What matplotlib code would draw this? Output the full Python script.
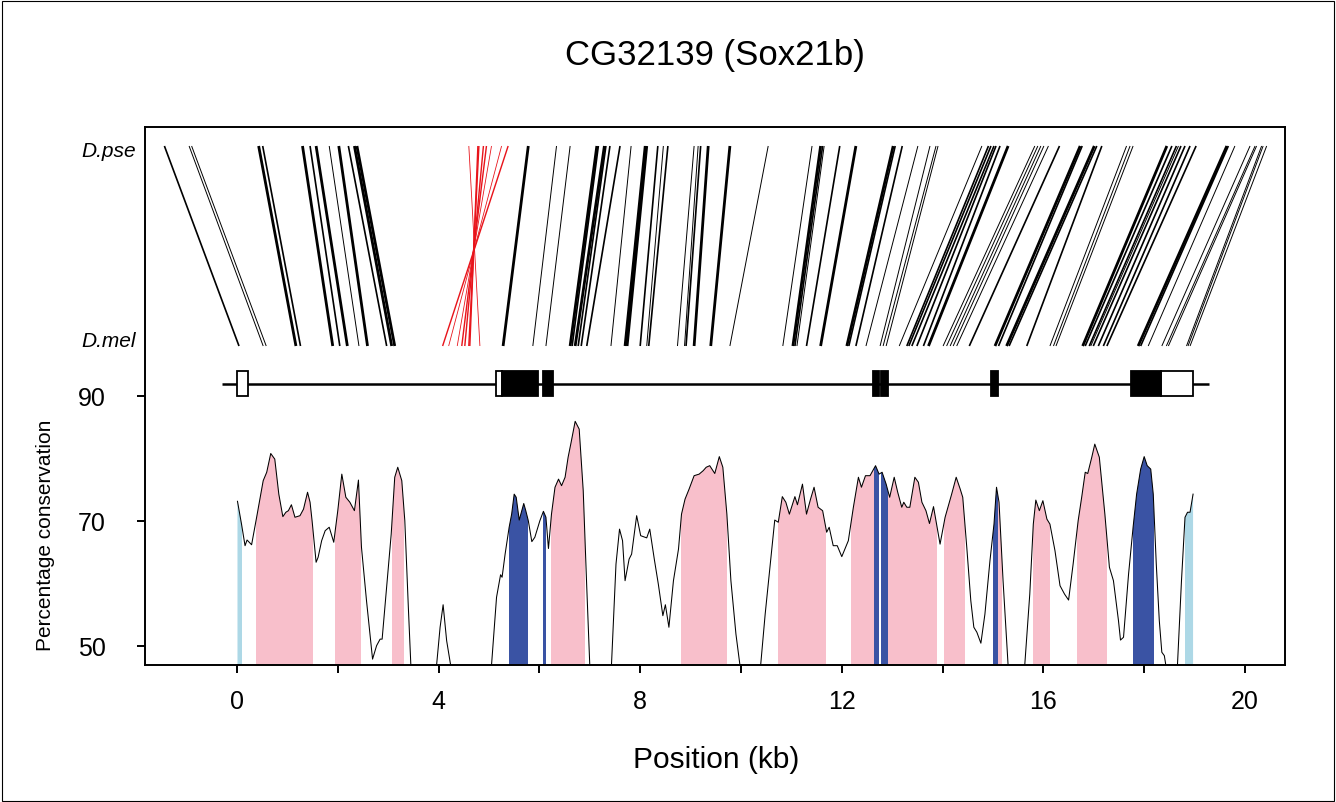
import numpy as np
import matplotlib
matplotlib.use("Agg")
import matplotlib.pyplot as plt
from matplotlib.patches import Rectangle
from matplotlib.collections import LineCollection

plt.rcParams['font.family'] = ['Liberation Sans', 'DejaVu Sans']

TITLE = "CG32139 (Sox21b)"
XLABEL = "Position (kb)"
YLABEL = "Percentage conservation"
SP_TOP = "D.pse"
SP_BOT = "D.mel"

# ---- synteny links: D.pse position (top) -> D.mel position (bottom), kb; class 1 thin,2 medium,3 thick
link_top = [-1.44, -0.95, -0.90, 0.43, 0.51, 1.30, 1.45, 1.57, 1.83, 2.02, 2.21, 2.33, 2.38,
            5.78, 6.34, 6.61, 7.14, 7.17, 7.29, 7.32, 7.40, 7.60, 7.82, 8.10, 8.13, 8.35, 8.46, 8.55,
            9.07, 9.15, 9.20, 9.35, 9.78, 10.54, 11.41, 11.58, 11.62, 11.65, 11.96, 12.28,
            13.02, 13.06, 13.20, 13.51, 13.75, 13.87, 13.91,
            14.78, 14.91, 14.96, 15.02, 15.06, 15.14, 15.30,
            15.83, 15.89, 15.95, 16.01, 16.10, 16.32,
            16.73, 16.77, 17.01, 17.06, 17.16, 17.65, 17.72, 17.78,
            18.45, 18.55, 18.64, 18.68, 18.73, 18.81, 18.91, 19.03,
            19.64, 19.67, 19.80, 20.10, 20.20, 20.23, 20.33, 20.36, 20.43]
link_bot = [0.04, 0.52, 0.58, 1.17, 1.26, 1.90, 2.04, 2.19, 2.42, 2.59, 2.97, 3.07, 3.13,
            5.28, 5.87, 6.13, 6.61, 6.65, 6.71, 6.77, 6.83, 6.94, 7.42, 7.70, 7.74, 8.00, 8.13, 8.17,
            8.74, 8.88, 8.91, 9.07, 9.40, 9.78, 10.83, 11.03, 11.07, 11.11, 11.30, 11.58,
            12.10, 12.14, 12.28, 12.48, 12.76, 12.82, 12.88,
            13.14, 13.29, 13.33, 13.39, 13.49, 13.62, 13.72,
            14.01, 14.08, 14.15, 14.21, 14.28, 14.53,
            15.04, 15.11, 15.27, 15.32, 15.67, 16.13, 16.20, 16.25,
            16.78, 16.83, 16.91, 16.94, 16.99, 17.09, 17.19, 17.26,
            17.88, 17.93, 18.08, 18.35, 18.44, 18.48, 18.84, 18.87, 18.91]
link_cls = [2, 1, 1, 3, 2, 3, 2, 3, 1, 3, 2, 3, 3,
            3, 1, 1, 3, 2, 3, 2, 2, 2, 1, 3, 3, 2, 1, 2,
            1, 1, 2, 3, 3, 1, 1, 3, 2, 1, 2, 3,
            3, 2, 2, 1, 1, 1, 1,
            1, 2, 2, 2, 2, 2, 3,
            1, 1, 1, 1, 1, 2,
            3, 2, 3, 2, 2, 1, 1, 1,
            3, 2, 2, 1, 2, 2, 2, 2,
            3, 2, 1, 1, 1, 1, 1, 1, 1]
# inverted (red) links
inv_top = [4.60, 4.78, 4.80, 4.89, 4.95, 5.05, 5.25, 5.38]
inv_bot = [4.82, 4.62, 4.60, 4.52, 4.46, 4.37, 4.20, 4.08]
inv_cls = [1, 2, 2, 2, 2, 1, 1, 2]

# ---- gene model (kb)
gene_span = (-0.30, 19.29)
utr_exons = [(0.01, 0.21), (5.14, 5.26), (18.33, 18.97)]
cds_exons = [(5.26, 5.97), (6.08, 6.28), (12.62, 12.74), (12.77, 12.92), (14.97, 15.10), (17.74, 18.33)]

# ---- conservation profile (kb, %); NaN = below plotted range
cons_x = [0.01, 0.09, 0.16, 0.20, 0.29, 0.39, 0.52, 0.59, 0.67, 0.75, 0.83, 0.91, 0.97, 1.02, 1.08,
          1.15, 1.25, 1.32, 1.40, 1.45, 1.49, 1.57, 1.61, 1.68, 1.75, 1.83, 1.92, 2.00, 2.08, 2.16,
          2.24, 2.33, 2.41, 2.47, 2.57, 2.69, 2.77, 2.84, 2.88, 2.97, 3.06, 3.13, 3.19, 3.27, 3.33,
          3.40, 3.45, 3.70,
          3.96, 4.03, 4.09, 4.16, 4.24, 4.60,
          5.05, 5.15, 5.23, 5.26, 5.32, 5.40, 5.45, 5.50, 5.54, 5.60, 5.65, 5.69, 5.73, 5.78, 5.85,
          5.91, 6.01, 6.08, 6.13, 6.18, 6.24, 6.31, 6.38, 6.44, 6.51, 6.57, 6.63, 6.71, 6.79, 6.87,
          6.94, 7.00, 7.20,
          7.43, 7.52, 7.59, 7.65, 7.70, 7.78, 7.83, 7.93, 8.01, 8.13, 8.19, 8.28, 8.36, 8.45, 8.50,
          8.57, 8.66, 8.76, 8.82, 8.89, 8.97, 9.07, 9.17, 9.25, 9.31, 9.38, 9.48, 9.57, 9.64, 9.72,
          9.80, 9.90, 9.98, 10.20,
          10.39, 10.48, 10.58, 10.67, 10.74, 10.82, 10.89, 10.96, 11.07, 11.12, 11.22, 11.30, 11.38,
          11.45, 11.53, 11.62, 11.70, 11.75, 11.83, 11.91, 12.00, 12.13, 12.23, 12.33, 12.39, 12.47,
          12.56, 12.67, 12.74, 12.80, 12.88, 12.95, 13.04, 13.11, 13.19, 13.23, 13.29, 13.35, 13.45,
          13.52, 13.59, 13.67, 13.74, 13.82, 13.88, 13.95, 14.05, 14.18, 14.27, 14.35, 14.40, 14.48,
          14.56, 14.62, 14.68, 14.76, 14.84, 14.94, 15.02, 15.07, 15.12, 15.20, 15.30, 15.45,
          15.63, 15.73, 15.80, 15.85, 15.92, 15.99, 16.07, 16.13, 16.23, 16.33, 16.42, 16.50, 16.59,
          16.69, 16.76, 16.83, 16.88, 16.96, 17.02, 17.11, 17.22, 17.31, 17.39, 17.49, 17.53, 17.59,
          17.69, 17.78, 17.85, 17.93, 18.00, 18.06, 18.13, 18.18, 18.24, 18.30, 18.35, 18.40, 18.43,
          18.55,
          18.66, 18.74, 18.81, 18.86, 18.91, 18.97]
cons_y = [73.15, 69.5, 66.05, 66.96, 66.2, 70.6, 76.45, 77.8, 80.8, 79.9, 74.3, 70.7, 71.4, 71.65, 72.6,
          70.6, 70.85, 71.9, 74.6, 73.0, 70.05, 63.4, 64.2, 66.85, 68.45, 69.0, 66.6, 71.65, 77.5, 73.8,
          73.0, 71.65, 76.55, 65.8, 57.25, 47.9, 50.05, 51.1, 51.1, 59.4, 67.9, 77.0, 78.6, 76.45, 70.05,
          56.2, 46.9, np.nan,
          46.9, 53.0, 56.6, 50.85, 46.9, np.nan,
          46.9, 57.8, 61.4, 61.0, 64.7, 69.0, 71.1, 74.3, 73.8, 70.15, 71.65, 72.8, 71.65, 70.05, 66.7,
          67.4, 70.05, 71.55, 70.6, 65.6, 71.1, 75.4, 76.7, 75.65, 77.0, 80.2, 82.6, 85.95, 84.7, 74.85,
          59.4, 46.9, np.nan,
          46.9, 63.1, 68.7, 66.85, 60.45, 63.9, 64.7, 70.85, 67.65, 67.3, 68.7, 63.9, 59.9, 54.85, 56.6,
          53.0, 60.45, 65.5, 71.1, 73.5, 75.1, 77.25, 77.5, 78.05, 78.6, 78.85, 77.6, 80.3, 78.6, 71.1,
          60.45, 51.9, 46.9, np.nan,
          46.9, 55.1, 63.1, 70.15, 69.8, 73.9, 73.0, 71.1, 73.9, 72.6, 75.9, 71.1, 73.5,
          75.4, 72.2, 71.65, 68.2, 69.0, 66.05, 66.05, 64.3, 66.85, 72.2, 77.0, 75.4, 77.25,
          77.25, 78.85, 77.5, 77.8, 75.9, 73.8, 77.0, 74.6, 72.2, 73.0, 72.2, 72.2, 77.0,
          76.2, 73.0, 71.65, 69.6, 72.3, 69.5, 66.3, 70.6, 74.3, 77.0, 75.1, 73.8, 65.8,
          57.25, 53.0, 52.2, 50.45, 55.1, 63.65, 69.5, 75.4, 73.0, 60.45, 46.9, np.nan,
          46.9, 58.3, 69.5, 73.35, 71.65, 73.25, 70.3, 69.5, 65.25, 59.65, 58.3, 57.35, 63.1,
          70.05, 73.8, 77.8, 77.6, 80.2, 82.3, 80.2, 71.1, 62.6, 60.45, 54.05, 50.95, 51.4,
          61.5, 69.0, 74.3, 78.3, 80.3, 78.85, 78.3, 74.3, 63.1, 54.05, 49.0, 48.45, 46.9,
          np.nan,
          46.9, 60.45, 70.6, 71.4, 71.4, 74.3]

# ---- shaded regions (kb)
utr_regions = [(0.00, 0.09), (18.80, 18.99)]
cds_regions = [(5.40, 5.78), (6.08, 6.13), (12.64, 12.73), (12.77, 12.92), (15.01, 15.10), (17.77, 18.20)]
cnc_regions = [(0.38, 1.51), (1.94, 2.47), (3.08, 3.32), (6.24, 6.90), (8.81, 9.72), (10.74, 11.68),
               (12.18, 12.64), (12.92, 13.88), (14.03, 14.44), (15.10, 15.17), (15.79, 16.13), (16.67, 17.26)]

xticks = [0, 2, 4, 6, 8, 10, 12, 14, 16, 18, 20]
xticklabels = ["0", "", "4", "", "8", "", "12", "", "16", "", "20"]
yticks = [50, 70, 90]

Y_TOP, Y_BOT = 130.0, 98.0
GENE_Y, GENE_H = 92.0, 4.1

W, H = 1336, 803
fig = plt.figure(figsize=(W / 100, H / 100), dpi=100)
fig.patches.append(Rectangle((0.0015, 0.0015), 0.997, 0.996, transform=fig.transFigure,
                             fill=False, edgecolor='black', lw=0.8))
ax = fig.add_axes([145 / W, 1 - 666 / H, (1285 - 145) / W, (666 - 128) / H])
YMIN, YMAX = 46.96, 133.04
ax.set_xlim(-1.825, 20.794)
ax.set_ylim(YMIN, YMAX)

cls_w = {1: 0.7, 2: 1.2, 3: 2.0}
segs = [[(t, Y_TOP), (b, Y_BOT)] for t, b in zip(link_top, link_bot)]
ax.add_collection(LineCollection(segs, colors='black', linewidths=[cls_w[c] for c in link_cls],
                                 capstyle='butt'))
segs_r = [[(t, Y_TOP), (b, Y_BOT)] for t, b in zip(inv_top, inv_bot)]
ax.add_collection(LineCollection(segs_r, colors='#E8141B', linewidths=[cls_w[c] * 0.85 for c in inv_cls],
                                 capstyle='butt'))

# gene model
ax.plot(gene_span, [GENE_Y, GENE_Y], color='black', lw=1.8, solid_capstyle='butt', zorder=3)
for a, b in utr_exons:
    ax.add_patch(Rectangle((a, GENE_Y - GENE_H / 2), b - a, GENE_H, facecolor='white',
                           edgecolor='black', lw=1.3, zorder=4))
for a, b in cds_exons:
    ax.add_patch(Rectangle((a, GENE_Y - GENE_H / 2), b - a, GENE_H, facecolor='black',
                           edgecolor='black', lw=1.3, zorder=4))

# conservation fills
cx = np.array(cons_x)
cy = np.array(cons_y)
for regions, col in [(cnc_regions, '#F8BFCB'), (cds_regions, '#3A53A4'), (utr_regions, '#ADD8E6')]:
    for a, b in regions:
        poly = ax.fill_between(cx, YMIN, cy, color=col, lw=0, zorder=1)
        clip = Rectangle((a, YMIN), b - a, 45, transform=ax.transData)
        poly.set_clip_path(clip)
ax.plot(cx, cy, color='black', lw=0.75, zorder=2)

for s in ax.spines.values():
    s.set_linewidth(1.4)
    s.set_zorder(5)
ax.set_xticks(xticks)
ax.set_xticklabels(xticklabels, fontsize=18)
ax.set_yticks(yticks)
ax.set_yticklabels([str(v) for v in yticks], fontsize=18)
ax.tick_params(axis='both', direction='out', length=6, width=1.4)
ax.tick_params(axis='x', pad=11)
ax.tick_params(axis='y', pad=22)

ax.text(-1.825 - 0.18, Y_TOP - 0.75, SP_TOP, ha='right', va='center', fontsize=15, style='italic')
ax.text(-1.825 - 0.18, Y_BOT + 0.8, SP_BOT, ha='right', va='center', fontsize=15, style='italic')

fig.text(715 / W, 1 - 55 / H, TITLE, ha='center', va='center', fontsize=25)
fig.text(716 / W, 1 - 760 / H, XLABEL, ha='center', va='center', fontsize=21.5)
fig.text(46 / W, 1 - 535 / H, YLABEL, ha='center', va='center', rotation=90, fontsize=15)

fig.savefig("out.png", dpi=100)
